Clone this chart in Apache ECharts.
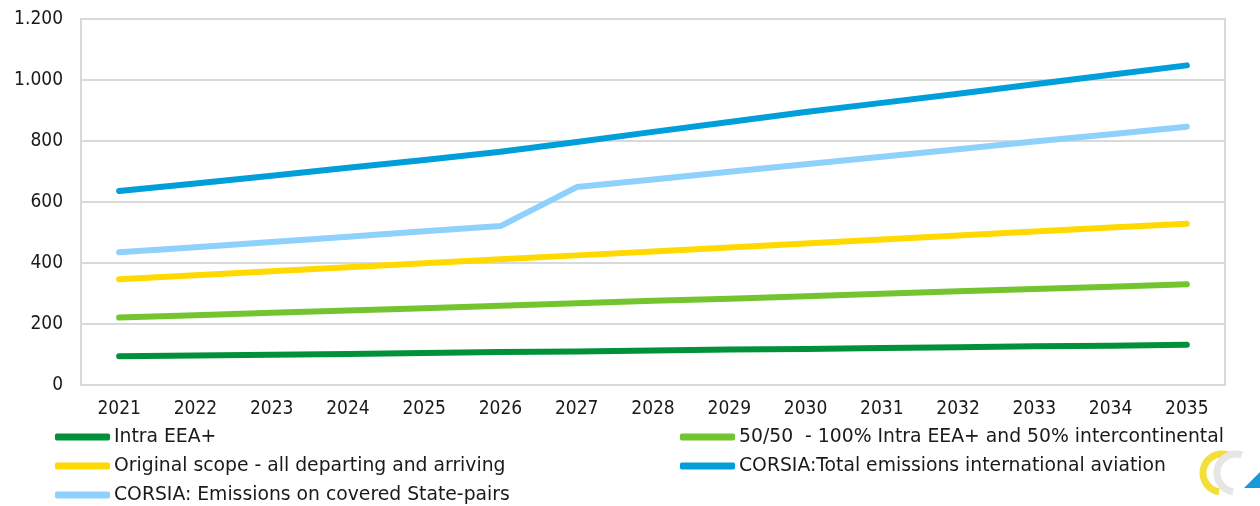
<!DOCTYPE html>
<html>
<head>
<meta charset="utf-8">
<script src="https://cdn.jsdelivr.net/npm/echarts@6/dist/echarts.min.js"></script>
<style>
	html, body { margin: 0; padding: 0; background: #fff; }
	#chart { width: 1260px; height: 506px; }
</style>
</head>
<body>
<div id="chart"></div>
<script>
	// years on the x axis
	var years = ['2021', '2022', '2023', '2024', '2025', '2026', '2027', '2028', '2029', '2030', '2031', '2032', '2033', '2034', '2035'];

	var intraEEA = [94, 97, 99, 102, 105, 108, 110, 113, 116, 118, 121, 124, 127, 129, 132];
	var fiftyFifty = [221, 229, 237, 244, 252, 260, 268, 276, 283, 291, 299, 307, 315, 322, 330];
	var originalScope = [347, 360, 373, 386, 399, 412, 425, 438, 451, 464, 477, 490, 503, 516, 529];
	var corsiaTotal = [636, 661, 686, 712, 738, 765, 797, 830, 862, 895, 925, 955, 986, 1017, 1048];
	var corsiaPairs = [435, 452, 469, 486, 504, 521, 649, 674, 699, 724, 748, 773, 798, 822, 847];

	var names = [
		'Intra EEA+',
		'50/50  - 100% Intra EEA+ and 50% intercontinental',
		'Original scope - all departing and arriving',
		'CORSIA:Total emissions international aviation',
		'CORSIA: Emissions on covered State-pairs'
	];
	var colors = ['#00913a', '#72c52f', '#ffd900', '#009fda', '#8fd1fd'];

	var font = '"DejaVu Sans Condensed", "DejaVu Sans", sans-serif';
	var legendFont = '"DejaVu Sans", sans-serif';

	function line(name, data, color) {
		return {
			name: name,
			type: 'line',
			data: data,
			symbol: 'none',
			lineStyle: { color: color, width: 6, cap: 'round', join: 'round' },
			itemStyle: { color: color }
		};
	}

	var chart = echarts.init(document.getElementById('chart'));

	var legendBase = {
		orient: 'vertical',
		icon: 'roundRect',
		itemWidth: 55,
		itemHeight: 7,
		itemGap: 9,
		padding: 0,
		height: 90,
		textStyle: { fontFamily: legendFont, fontSize: 18.8, color: '#1a1a1a', lineHeight: 20, padding: [0, 0, 0, -1] }
	};

	var option = {
		animation: false,
		backgroundColor: '#fff',
		grid: { left: 81, right: 35, top: 19, bottom: 121, show: true, borderColor: '#d9d9d9', borderWidth: 2 },
		legend: [
			Object.assign({}, legendBase, { left: 55, top: 427, data: [names[0], names[2], names[4]] }),
			Object.assign({}, legendBase, { left: 680, top: 427, data: [names[1], names[3]] })
		],
		xAxis: {
			type: 'category',
			data: years,
			boundaryGap: true,
			axisLine: { lineStyle: { color: '#d9d9d9', width: 2 } },
			axisTick: { show: false },
			axisLabel: { fontFamily: font, fontSize: 19, color: '#1a1a1a', margin: 15 }
		},
		yAxis: {
			type: 'value',
			min: 0,
			max: 1200,
			interval: 200,
			axisLine: { show: true, lineStyle: { color: '#d9d9d9', width: 2 } },
			splitLine: { lineStyle: { color: '#d9d9d9', width: 2 } },
			axisLabel: {
				fontFamily: font, fontSize: 19, color: '#1a1a1a', margin: 18,
				formatter: function (v) { return String(v).replace(/\B(?=(\d{3})+(?!\d))/g, '.'); }
			}
		},
		series: [
			line(names[0], intraEEA, colors[0]),
			line(names[1], fiftyFifty, colors[1]),
			line(names[2], originalScope, colors[2]),
			line(names[3], corsiaTotal, colors[3]),
			line(names[4], corsiaPairs, colors[4])
		],
		graphic: [
			// small logo in the corner
			{ type: 'arc', shape: { cx: 1222, cy: 473, r: 19, startAngle: Math.PI * 0.55, endAngle: Math.PI * 1.6 }, style: { stroke: '#f3df3a', lineWidth: 7, fill: 'none' } },
			{ type: 'arc', shape: { cx: 1236, cy: 473, r: 19, startAngle: Math.PI * 0.55, endAngle: Math.PI * 1.6 }, style: { stroke: '#e6e6e6', lineWidth: 7, fill: 'none' } },
			{ type: 'polygon', shape: { points: [[1244, 488], [1260, 488], [1260, 472]] }, style: { fill: '#1a9ad6' } }
		]
	};

	chart.setOption(option);
	window.addEventListener('resize', function () {
		chart.resize();
	});
</script>
</body>
</html>
